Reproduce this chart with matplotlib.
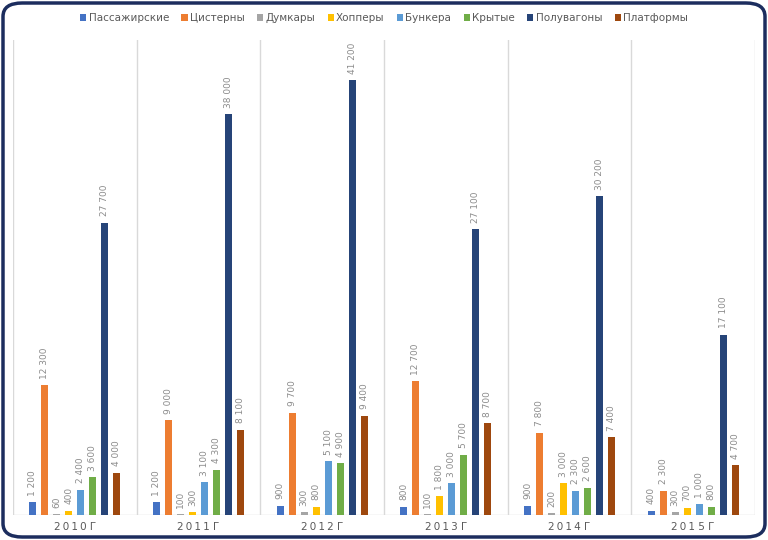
import numpy as np
import matplotlib.pyplot as plt
from matplotlib.patches import FancyBboxPatch

years = ['2010 Г', '2011 Г', '2012 Г', '2013 Г', '2014 Г', '201 5 Г']
types = ['Пассажирские', 'Цистерны', 'Думкары', 'Хопперы', 'Бункера', 'Крытые', 'Полувагоны', 'Платформы']
colors = ['#4472C4', '#ED7D31', '#A5A5A5', '#FFC000', '#5B9BD5', '#70AD47', '#264478', '#9E480E']

passenger = [1200, 1200, 900, 800, 900, 400]
tanks = [12300, 9000, 9700, 12700, 7800, 2300]
dumpcars = [60, 100, 300, 100, 200, 300]
hoppers = [400, 300, 800, 1800, 3000, 700]
bunkers = [2400, 3100, 5100, 3000, 2300, 1000]
covered = [3600, 4300, 4900, 5700, 2600, 800]
gondolas = [27700, 38000, 41200, 27100, 30200, 17100]
platforms = [4000, 8100, 9400, 8700, 7400, 4700]
series = [passenger, tanks, dumpcars, hoppers, bunkers, covered, gondolas, platforms]

fig = plt.figure(figsize=(7.68, 5.40), dpi=100)
ax = fig.add_axes([13/768, 25/540, 742/768, 475/540])

x = np.arange(len(years))
pitch = 0.097
width = 0.056
for i, (name, vals, c) in enumerate(zip(types, series, colors)):
    pos = x + (i - 3.5) * pitch
    ax.bar(pos, vals, width, color=c, label=name, zorder=3)
    for p, v in zip(pos, vals):
        lab = '{:,}'.format(v).replace(',', ' ')
        ax.text(p, v + 600, lab, rotation=90, ha='center', va='bottom',
                fontsize=6.5, color='#8c8c8c')

ax.set_xlim(-0.5, len(years) - 0.5)
ax.set_ylim(0, 45000)
for b in np.arange(-0.5, len(years)):
    ax.axvline(b, color='#d9d9d9', lw=1, zorder=1)
ax.axhline(0, color='#d9d9d9', lw=1, zorder=2)
for s in ax.spines.values():
    s.set_visible(False)
ax.set_yticks([])
ax.set_xticks(x)
# letter-spaced category labels
spaced = [' '.join('\u2009'.join(w) for w in y.split(' ')) for y in years]
ax.set_xticklabels(spaced, fontsize=7.5, color='#595959')
ax.tick_params(axis='x', length=0, pad=5)

fig.legend(loc='upper center', bbox_to_anchor=(0.5, 0.993), ncol=8, frameon=False,
           fontsize=7.5, handlelength=0.6, handleheight=0.6, handletextpad=0.2,
           columnspacing=1.2, labelcolor='#595959')

border = FancyBboxPatch((3/768, 3/540), 762/768, 534/540,
                        boxstyle='round,pad=0,rounding_size=0.025',
                        transform=fig.transFigure, fill=False,
                        edgecolor='#1c2d5e', lw=2.5)
fig.patches.append(border)

fig.savefig('out.png', dpi=100)
